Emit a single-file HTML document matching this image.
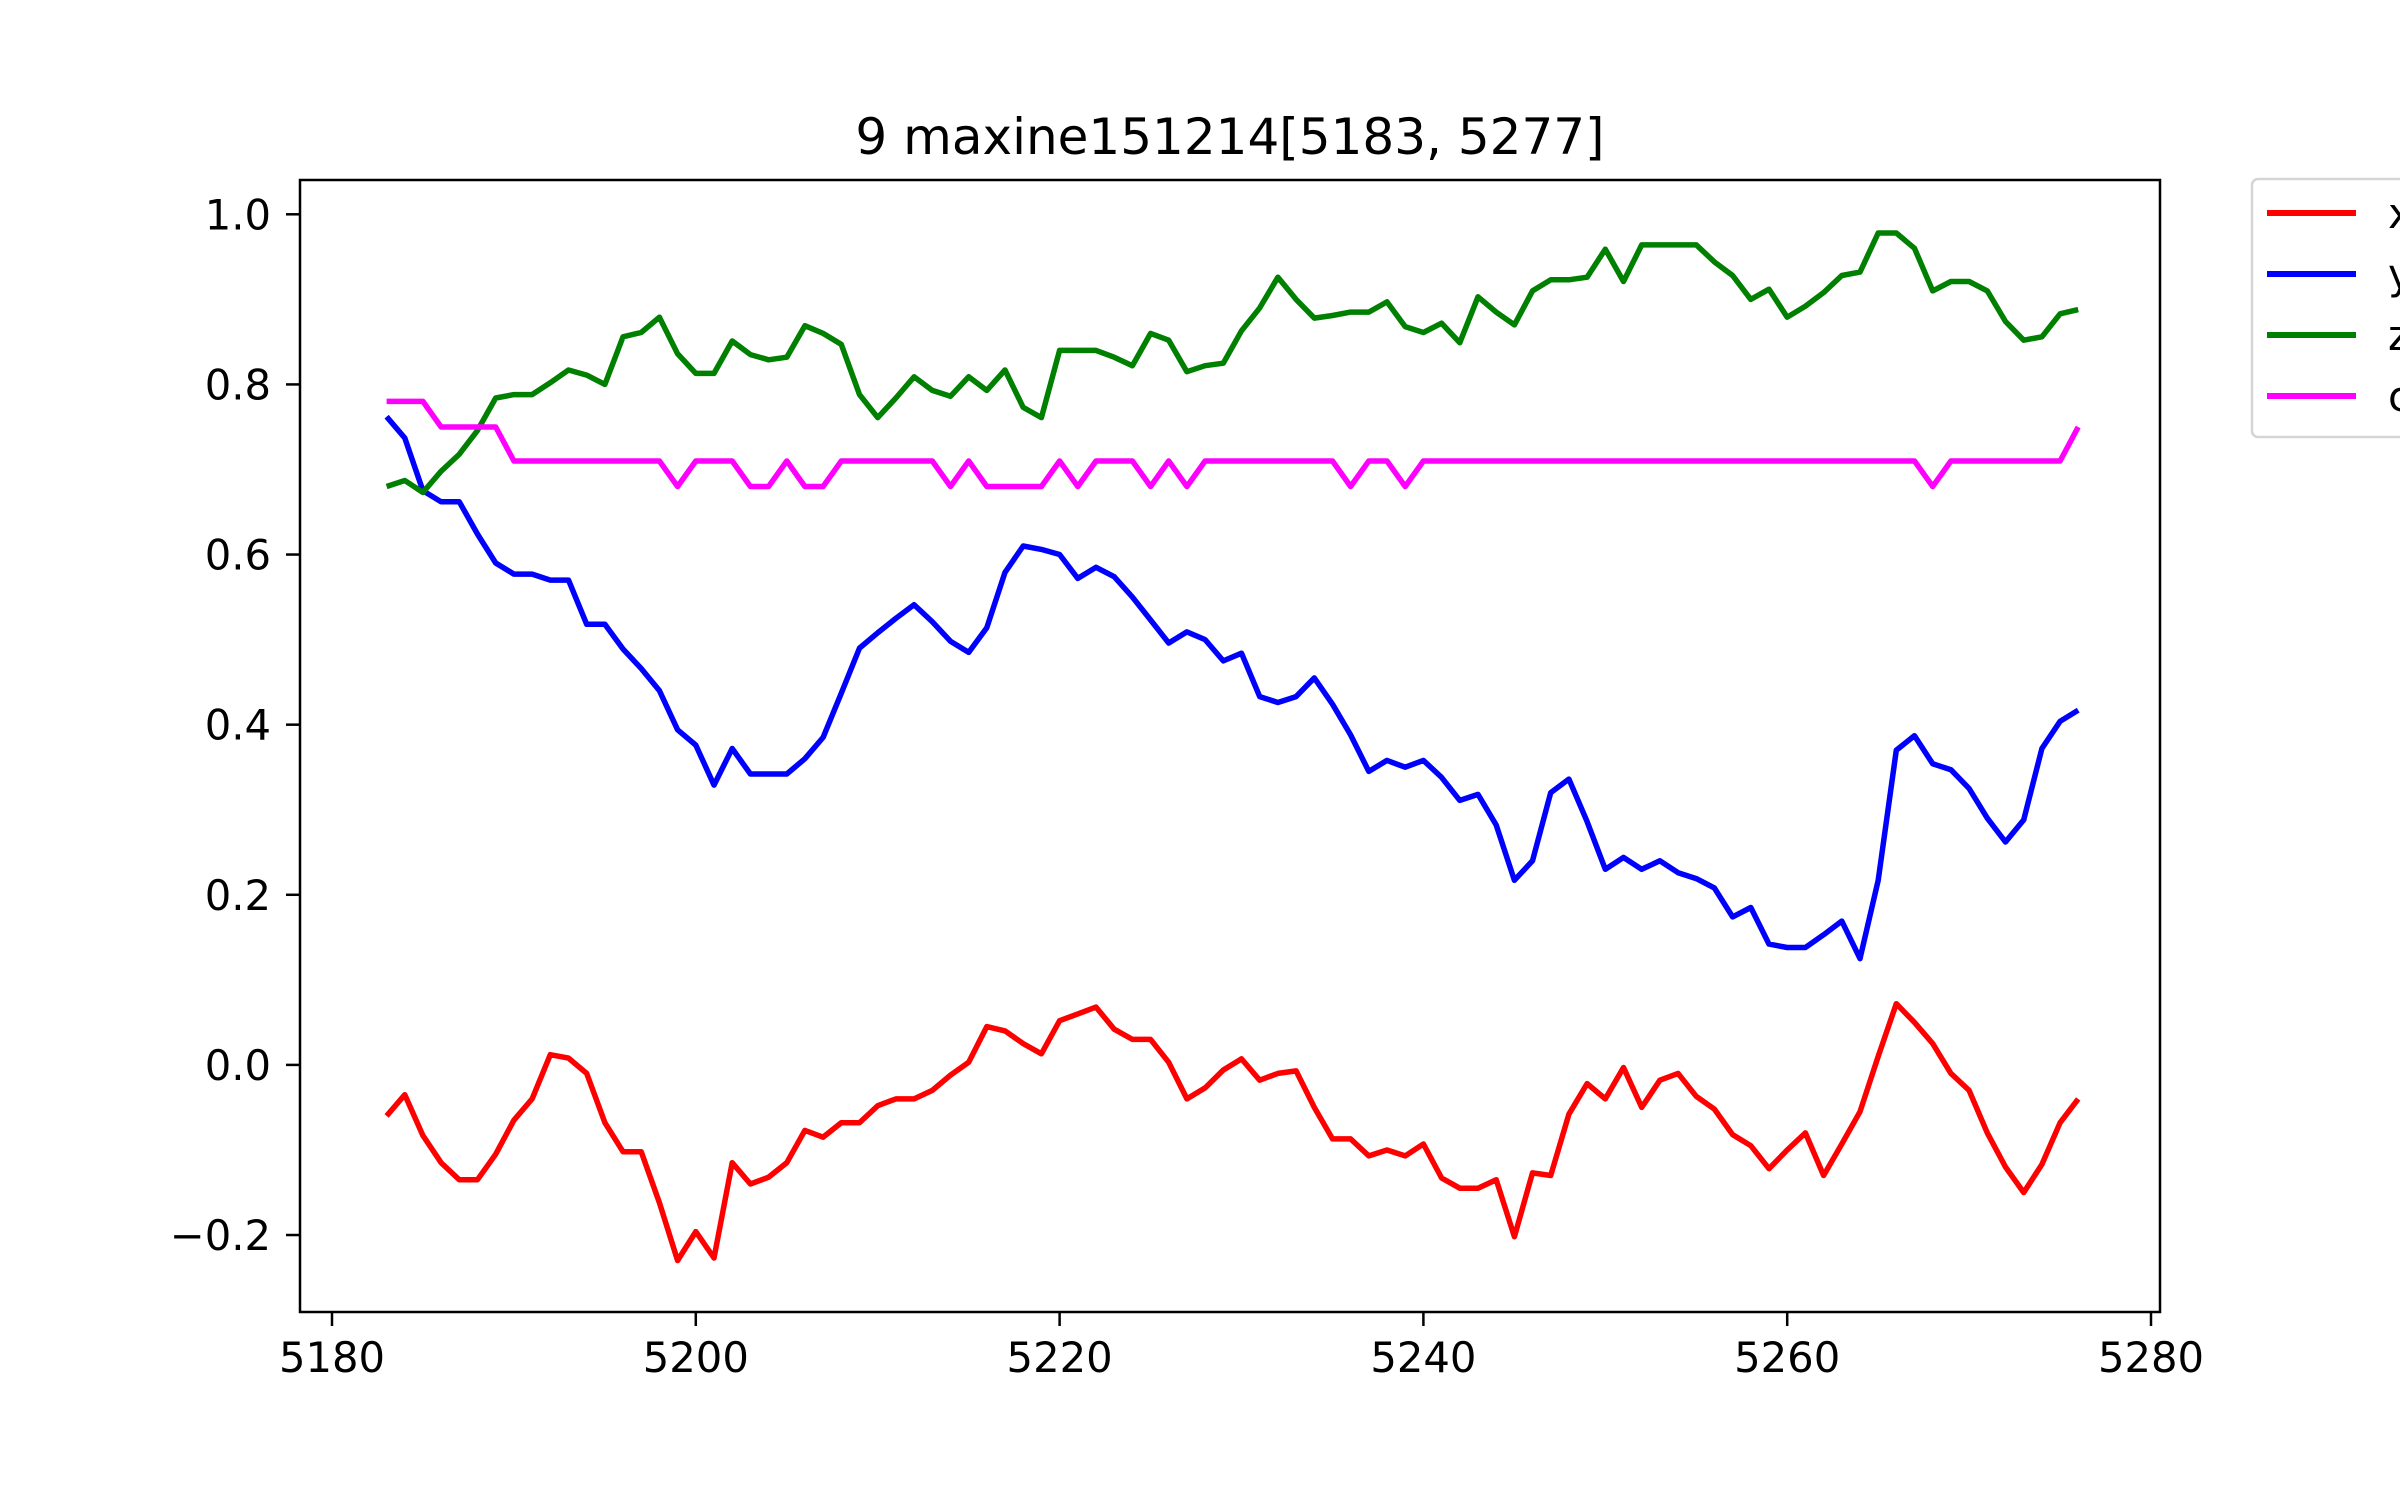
<!DOCTYPE html>
<html><head><meta charset="utf-8"><style>
html,body{margin:0;padding:0;background:#fff;}
svg{display:block;font-family:"DejaVu Sans","Liberation Sans",sans-serif;}
</style></head><body>
<svg id="chart" width="2400" height="1500" viewBox="0 0 2400 1500">
<rect width="2400" height="1500" fill="#fff"/>
<text x="1230" y="154" font-size="50" text-anchor="middle">9 maxine151214[5183, 5277]</text>
<g id="grid"></g>
<g id="series"></g>
<rect x="300" y="180" width="1860" height="1132" fill="none" stroke="#000" stroke-width="2.5"/>
<g>
<rect x="2252" y="179" width="160" height="258" rx="6" fill="#fff" stroke="#d5d5d5" stroke-width="2.5"/>
<g id="legend"></g>
</g>
</svg>
<script>
const xStart = 5183;
const xTicks = [5180, 5200, 5220, 5240, 5260, 5280];
const yTicks = [-0.2, 0.0, 0.2, 0.4, 0.6, 0.8, 1.0];
const yTickLabels = ["\u22120.2", "0.0", "0.2", "0.4", "0.6", "0.8", "1.0"];
const seriesNames = ["x", "y", "z", "c"];
const xVals = [-0.06,-0.035,-0.083,-0.115,-0.135,-0.135,-0.105,-0.065,-0.04,0.012,0.008,-0.01,-0.068,-0.102,-0.102,-0.162,-0.23,-0.196,-0.227,-0.115,-0.14,-0.132,-0.115,-0.077,-0.085,-0.068,-0.068,-0.048,-0.04,-0.04,-0.03,-0.012,0.003,0.045,0.04,0.025,0.013,0.052,0.06,0.068,0.042,0.03,0.03,0.003,-0.04,-0.027,-0.006,0.007,-0.018,-0.01,-0.007,-0.05,-0.087,-0.087,-0.107,-0.1,-0.107,-0.093,-0.133,-0.145,-0.145,-0.135,-0.202,-0.127,-0.13,-0.058,-0.022,-0.04,-0.003,-0.05,-0.018,-0.01,-0.037,-0.052,-0.082,-0.095,-0.122,-0.1,-0.08,-0.13,-0.093,-0.055,0.01,0.072,0.05,0.025,-0.01,-0.03,-0.08,-0.12,-0.15,-0.117,-0.068,-0.04];
const yVals = [0.762,0.737,0.675,0.662,0.662,0.624,0.59,0.577,0.577,0.57,0.57,0.518,0.518,0.489,0.466,0.44,0.394,0.376,0.329,0.372,0.342,0.342,0.342,0.36,0.385,0.437,0.49,0.508,0.525,0.541,0.521,0.498,0.485,0.514,0.579,0.61,0.606,0.6,0.572,0.585,0.574,0.55,0.523,0.496,0.509,0.5,0.475,0.484,0.433,0.426,0.433,0.455,0.424,0.388,0.345,0.358,0.35,0.358,0.338,0.311,0.318,0.282,0.217,0.24,0.32,0.336,0.286,0.23,0.244,0.23,0.24,0.226,0.219,0.208,0.174,0.185,0.142,0.138,0.138,0.153,0.169,0.125,0.217,0.37,0.387,0.354,0.347,0.325,0.29,0.262,0.288,0.372,0.404,0.417];
const zVals = [0.68,0.687,0.673,0.698,0.718,0.746,0.784,0.788,0.788,0.802,0.817,0.811,0.8,0.856,0.861,0.879,0.836,0.813,0.813,0.851,0.835,0.829,0.832,0.869,0.86,0.847,0.788,0.761,0.784,0.809,0.793,0.786,0.809,0.793,0.817,0.773,0.761,0.84,0.84,0.84,0.832,0.822,0.86,0.852,0.815,0.822,0.825,0.863,0.89,0.926,0.9,0.878,0.881,0.885,0.885,0.897,0.868,0.861,0.872,0.849,0.903,0.885,0.87,0.91,0.923,0.923,0.926,0.959,0.921,0.964,0.964,0.964,0.964,0.944,0.928,0.9,0.912,0.879,0.892,0.908,0.928,0.932,0.978,0.978,0.96,0.91,0.921,0.921,0.91,0.874,0.852,0.856,0.883,0.888];
const cVals = [0.78,0.78,0.78,0.75,0.75,0.75,0.75,0.71,0.71,0.71,0.71,0.71,0.71,0.71,0.71,0.71,0.68,0.71,0.71,0.71,0.68,0.68,0.71,0.68,0.68,0.71,0.71,0.71,0.71,0.71,0.71,0.68,0.71,0.68,0.68,0.68,0.68,0.71,0.68,0.71,0.71,0.71,0.68,0.71,0.68,0.71,0.71,0.71,0.71,0.71,0.71,0.71,0.71,0.68,0.71,0.71,0.68,0.71,0.71,0.71,0.71,0.71,0.71,0.71,0.71,0.71,0.71,0.71,0.71,0.71,0.71,0.71,0.71,0.71,0.71,0.71,0.71,0.71,0.71,0.71,0.71,0.71,0.71,0.71,0.71,0.68,0.71,0.71,0.71,0.71,0.71,0.71,0.71,0.75];

const NS = "http://www.w3.org/2000/svg";
const X0 = 332, XPU = 18.19;
const Y0 = 214.3, YPU = 850.6;
function sx(v){ return X0 + (v - 5180) * XPU; }
function sy(v){ return Y0 + (1.0 - v) * YPU; }
function mk(tag, attrs, parent){
  const el = document.createElementNS(NS, tag);
  for (const k in attrs) el.setAttribute(k, attrs[k]);
  parent.appendChild(el);
  return el;
}
const grid = document.getElementById('grid');
xTicks.forEach(t => {
  const x = sx(t);
  const tk = mk('line', {x1:x, x2:x, y1:1312, y2:1326, stroke:'#000', 'stroke-width':2.5}, grid);
  
  
  const lb = mk('text', {x:x, y:1372, 'font-size':41.7, 'text-anchor':'middle'}, grid);
  lb.textContent = t;
  
  
});
yTicks.forEach((t, i) => {
  const y = sy(t);
  const tk = mk('line', {x1:286, x2:300, y1:y, y2:y, stroke:'#000', 'stroke-width':2.5}, grid);
  
  
  const lb = mk('text', {x:271, y:y + 15, 'font-size':41.7, 'text-anchor':'end'}, grid);
  lb.textContent = yTickLabels[i];
  
  
});
const allSeries = [xVals, yVals, zVals, cVals];
const colors = ['#ff0000', '#0000ff', '#008000', '#ff00ff'];
const sg = document.getElementById('series');
allSeries.forEach((vals, si) => {
  const pts = vals.map((v, i) => sx(xStart + i).toFixed(1) + ',' + sy(v).toFixed(1)).join(' ');
  const pl = mk('polyline', {points:pts, fill:'none', stroke:colors[si], 'stroke-width':5.5, 'stroke-linejoin':'round'}, sg);
  
  
});
const lg = document.getElementById('legend');
seriesNames.forEach((n, i) => {
  const y = 213 + i * 61;
  const ln = mk('line', {x1:2267, x2:2356, y1:y, y2:y, stroke:colors[i], 'stroke-width':6}, lg);
  
  
  const tx = mk('text', {x:2388, y:y + 15, 'font-size':41.7}, lg);
  tx.textContent = n;
  
  
});
</script>
</body></html>
